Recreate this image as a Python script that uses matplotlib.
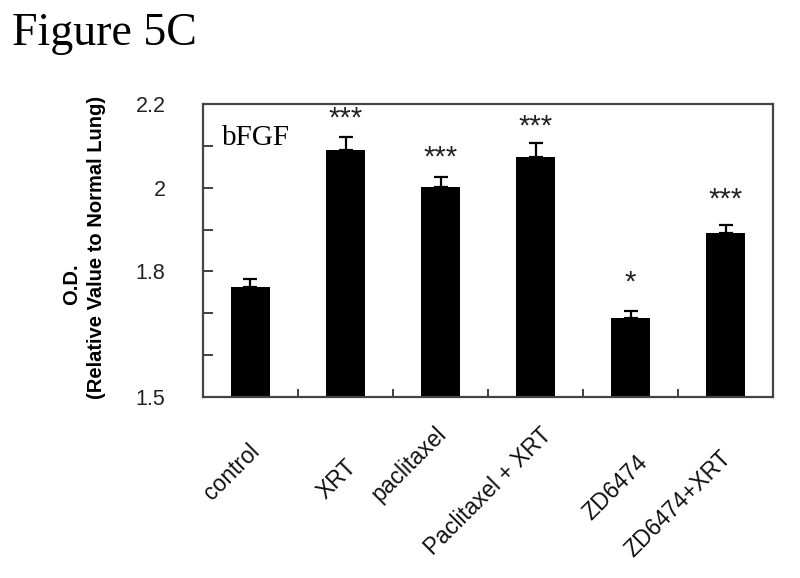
import matplotlib
matplotlib.use("Agg")
import matplotlib.pyplot as plt
import matplotlib.transforms as mtransforms
from matplotlib.ticker import FixedLocator, FixedFormatter

categories = ["control", "XRT", "paclitaxel", "Paclitaxel + XRT", "ZD6474", "ZD6474+XRT"]
values = [1.763, 2.090, 2.002, 2.073, 1.689, 1.893]
errors = [0.020, 0.031, 0.024, 0.034, 0.017, 0.018]
stars = ["", "***", "***", "***", "*", "***"]
ytick_values = [1.5, 1.6, 1.7, 1.8, 1.9, 2.0, 2.1, 2.2]
ytick_labels = ["1.5", "", "", "1.8", "", "2", "", "2.2"]

# layout: per-label pixel offsets (right, down) of the rotated category labels
label_offsets = [(6, 51), (7, 66), (2, 33), (13, 35), (14, 62), (2, 58)]
# layout: star offsets above error-bar tops (data units)
star_offsets = [0.0, 0.045, 0.045, 0.04, 0.068, 0.06]

fig = plt.figure(figsize=(8, 5.78), dpi=100)
ax = fig.add_axes([203/800, 1-397/578, 570/800, 293/578])

x = list(range(len(categories)))
ax.bar(x, values, width=0.42, color="black", zorder=2)
ax.errorbar(x, values, yerr=[[0]*len(values), errors], fmt="none",
            ecolor="black", elinewidth=1.6, capsize=5, capthick=1.6, zorder=3)

for xi, v, e, s, so in zip(x, values, errors, stars, star_offsets):
    if s:
        ax.text(xi, v + e + so, s, ha="center", va="center",
                fontsize=21, family="Liberation Sans", color="#222222")

ax.set_xlim(-0.5, len(categories) - 0.5)
ax.set_ylim(1.5, 2.2)

ax.yaxis.set_major_locator(FixedLocator(ytick_values))
ax.yaxis.set_major_formatter(FixedFormatter(ytick_labels))
ax.set_xticks([i + 0.5 for i in x[:-1]], minor=False)
ax.set_xticklabels([])
ax.tick_params(axis="y", direction="in", length=7, width=1.3, pad=27,
               labelsize=15.5, colors="#333333")
ax.tick_params(axis="x", direction="in", length=6, width=1.3, colors="#333333")
for lab in ax.get_yticklabels():
    lab.set_family("Liberation Sans")
    lab.set_color("#222222")

for sp in ax.spines.values():
    sp.set_color("#444444")
    sp.set_linewidth(1.6)

# x category labels rotated
trans = ax.get_xaxis_transform()
for xi, c, (dx, dy) in zip(x, categories, label_offsets):
    off = mtransforms.ScaledTranslation(dx/100, -dy/100, fig.dpi_scale_trans)
    ax.text(xi, 0, c, rotation=45, rotation_mode="anchor", ha="right", va="center",
            transform=trans + off, fontsize=16.5, family="Liberation Sans",
            color="#111111")

ax.text(222/800, 1-145/578, "bFGF", transform=fig.transFigure, fontsize=21,
        family="Liberation Serif", ha="left", va="baseline")

fig.text(72/800, 1-284/578, "O.D.", rotation=90, ha="center", va="center",
         fontsize=14.5, fontweight="bold", family="Liberation Sans")
fig.text(97/800, 1-247/578, "(Relative Value to Normal Lung)", rotation=90,
         ha="center", va="center", fontsize=14.5, fontweight="bold",
         family="Liberation Sans")

fig.text(12/800, 1-45/578, "Figure 5C", fontsize=33, family="Liberation Serif",
         ha="left", va="baseline")

fig.savefig("out.png", dpi=100)
